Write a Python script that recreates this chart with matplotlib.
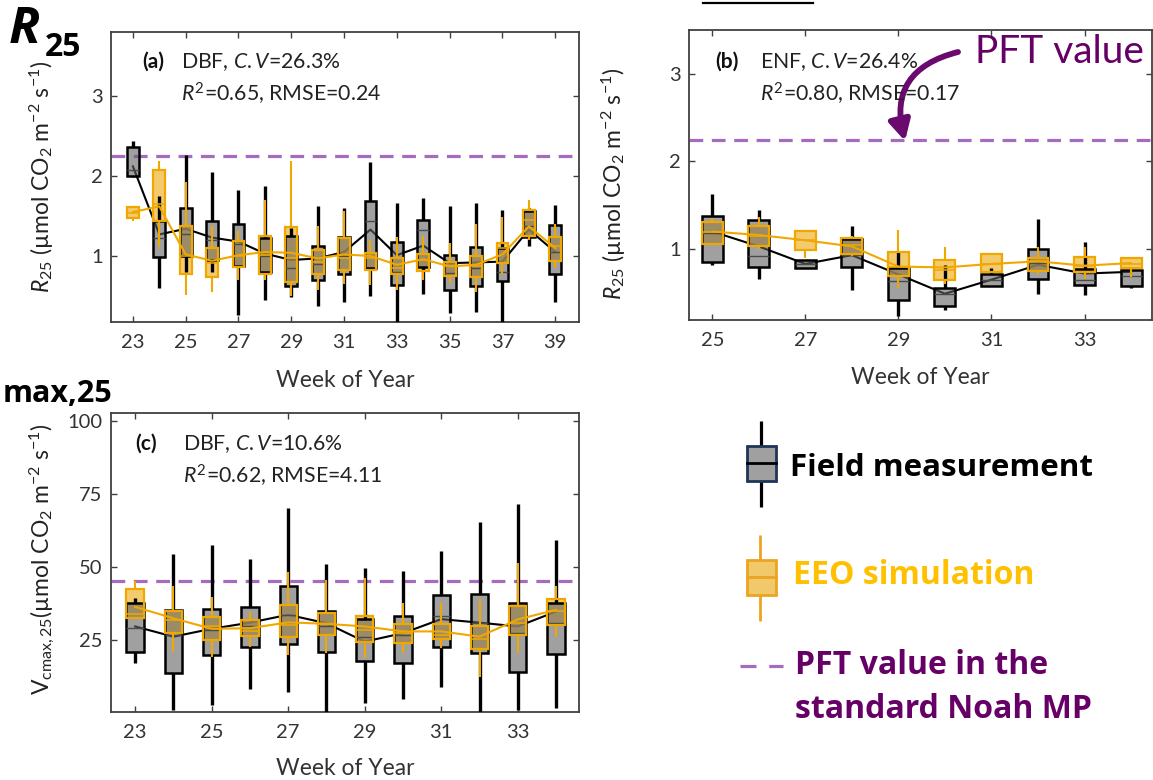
import matplotlib
matplotlib.use("Agg")
import matplotlib.pyplot as plt
from matplotlib.patches import Rectangle, FancyArrowPatch
from matplotlib.lines import Line2D

plt.rcParams["font.family"] = ["Lato", "DejaVu Sans"]
plt.rcParams["mathtext.fontset"] = "custom"
plt.rcParams["mathtext.rm"] = "Lato"
plt.rcParams["mathtext.it"] = "Lato:italic"
plt.rcParams["mathtext.bf"] = "Lato:bold"

# ---------------- data ----------------
weeks_a = list(range(23, 40))
fa_lo = [1.99, 0.60, 0.80, 0.80, 0.26, 0.45, 0.49, 0.38, 0.43, 0.50, 0.17, 0.52, 0.29, 0.30, 0.17, 1.12, 0.43]
fa_q1 = [2.00, 0.99, 1.00, 0.95, 0.87, 0.80, 0.63, 0.70, 0.77, 0.85, 0.64, 0.86, 0.58, 0.63, 0.69, 1.24, 0.78]
fa_med = [2.07, 1.22, 1.28, 1.20, 1.15, 1.00, 0.85, 0.90, 1.00, 1.44, 0.80, 1.33, 0.79, 0.85, 0.80, 1.37, 1.05]
fa_q3 = [2.36, 1.44, 1.60, 1.44, 1.40, 1.22, 1.25, 1.12, 1.24, 1.69, 1.18, 1.45, 1.01, 1.11, 1.10, 1.56, 1.39]
fa_hi = [2.44, 1.75, 2.26, 2.05, 1.83, 1.87, 1.35, 1.62, 1.60, 2.17, 1.66, 1.72, 1.63, 1.66, 1.58, 1.60, 1.64]
fa_mean = [2.12, 1.27, 1.34, 1.23, 1.18, 1.03, 0.95, 0.97, 1.05, 1.33, 1.01, 1.13, 0.91, 0.92, 0.93, 1.33, 1.05]

ea_lo = [1.44, 1.11, 0.51, 0.55, 0.70, 0.70, 0.50, 0.58, 0.65, 0.64, 0.58, 0.70, 0.66, 0.55, 0.78, 1.20, 0.85]
ea_q1 = [1.47, 1.44, 0.78, 0.74, 0.86, 0.78, 0.68, 0.78, 0.83, 0.83, 0.77, 0.81, 0.75, 0.74, 0.91, 1.25, 0.94]
ea_med = [1.54, 1.65, 1.00, 0.91, 1.00, 1.01, 0.97, 0.93, 0.98, 0.98, 0.85, 0.95, 0.87, 0.87, 1.10, 1.45, 1.12]
ea_q3 = [1.61, 2.07, 1.37, 1.10, 1.19, 1.25, 1.36, 1.07, 1.22, 1.04, 0.97, 1.03, 0.93, 1.00, 1.16, 1.58, 1.24]
ea_hi = [1.61, 2.19, 1.93, 1.37, 1.31, 1.70, 2.19, 1.37, 1.56, 1.20, 1.24, 1.25, 1.16, 1.40, 1.49, 1.70, 1.40]
ea_mean = [1.55, 1.62, 1.02, 0.94, 1.01, 1.05, 1.04, 0.97, 1.02, 1.00, 0.89, 0.96, 0.87, 0.89, 1.02, 1.37, 1.10]

weeks_b = list(range(25, 35))
fb_lo = [0.82, 0.66, 0.78, 0.53, 0.23, 0.30, 0.58, 0.49, 0.47, 0.56]
fb_q1 = [0.85, 0.79, 0.78, 0.80, 0.42, 0.35, 0.58, 0.66, 0.59, 0.58]
fb_med = [1.18, 0.92, 0.83, 0.93, 0.64, 0.49, 0.65, 0.84, 0.65, 0.69]
fb_q3 = [1.38, 1.33, 0.87, 1.12, 0.78, 0.56, 0.71, 1.00, 0.77, 0.76]
fb_hi = [1.63, 1.45, 0.87, 1.26, 0.97, 0.82, 0.78, 1.34, 1.08, 0.76]
fb_mean = [1.20, 1.03, 0.83, 0.93, 0.71, 0.49, 0.65, 0.82, 0.72, 0.74]

eb_lo = [1.05, 1.00, 0.90, 0.92, 0.55, 0.60, 0.74, 0.72, 0.66, 0.68]
eb_q1 = [1.06, 1.03, 0.99, 0.94, 0.69, 0.65, 0.74, 0.75, 0.74, 0.78]
eb_med = [1.20, 1.15, 1.10, 1.05, 0.80, 0.76, 0.83, 0.86, 0.81, 0.83]
eb_q3 = [1.31, 1.26, 1.21, 1.13, 0.97, 0.87, 0.94, 0.90, 0.91, 0.90]
eb_hi = [1.35, 1.37, 1.22, 1.15, 1.22, 1.02, 0.94, 1.02, 1.02, 0.90]
eb_mean = [1.20, 1.16, 1.10, 1.03, 0.80, 0.79, 0.83, 0.86, 0.81, 0.84]

weeks_c = list(range(23, 35))
fc_lo = [17.0, 1.0, 2.7, 8.1, 7.1, 0.0, 3.5, 4.8, 8.8, 0.0, 1.0, 1.6]
fc_q1 = [20.7, 13.8, 19.9, 22.4, 23.5, 20.7, 17.6, 17.0, 22.5, 20.4, 13.9, 20.2]
fc_med = [29.0, 26.7, 28.4, 29.6, 33.6, 29.6, 26.0, 26.7, 33.2, 30.9, 27.3, 30.7]
fc_q3 = [37.6, 35.3, 35.5, 36.1, 43.3, 34.9, 32.1, 33.3, 40.4, 40.8, 37.6, 37.6]
fc_hi = [39.3, 54.5, 57.5, 52.7, 70.1, 51.0, 49.5, 48.7, 55.5, 65.5, 71.6, 59.2]
fc_mean = [29.6, 26.1, 28.8, 30.9, 33.6, 30.7, 24.4, 27.3, 32.1, 30.9, 29.6, 34.7]

ec_lo = [32.5, 20.7, 19.3, 22.7, 19.9, 20.4, 18.7, 20.4, 22.1, 12.4, 20.4, 26.1]
ec_q1 = [32.6, 27.3, 25.0, 26.4, 25.9, 26.7, 24.2, 23.9, 25.2, 21.8, 26.5, 30.1]
ec_med = [34.0, 31.8, 29.6, 27.9, 30.1, 30.5, 28.4, 27.3, 26.7, 25.2, 30.7, 35.0]
ec_q3 = [42.5, 35.0, 33.0, 31.8, 37.0, 34.1, 33.2, 30.4, 30.4, 29.6, 36.6, 38.9]
ec_hi = [45.0, 43.3, 39.8, 34.7, 48.4, 45.5, 46.1, 37.6, 37.6, 39.0, 51.3, 43.5]
ec_mean = [36.3, 32.4, 28.8, 29.0, 31.0, 30.5, 29.6, 27.9, 27.9, 26.1, 32.0, 35.3]

pft_r25 = 2.25
pft_vcmax = 45.0

# ---------------- styles ----------------
GRAY_FACE = (0.38, 0.38, 0.38, 0.6)
ORANGE_FACE = (0.937, 0.725, 0.24, 0.75)
ORANGE = "#f0a800"
PURPLE_DASH = "#a56bbf"
PURPLE_TEXT = "#660066"
AXC = "#404040"
BOLD_FAMILY = ["Open Sans", "DejaVu Sans"]


def stats(lo, q1, med, q3, hi, mean):
    return [dict(whislo=a, q1=b, med=c, q3=d, whishi=e, mean=f, fliers=[])
            for a, b, c, d, e, f in zip(lo, q1, med, q3, hi, mean)]


def draw_panel(ax, weeks, field, eeo, pft):
    fs = stats(*field)
    es = stats(*eeo)
    w = 0.45
    ax.axhline(pft, color=PURPLE_DASH, lw=2.3, dashes=(4.3, 2.7), zorder=0.5)
    # field mean line under the fills
    ax.plot(weeks, field[5], color="black", lw=1.5, zorder=1)
    # EEO box fill
    ax.bxp(es, positions=weeks, widths=w, patch_artist=True, showcaps=False,
           showfliers=False, manage_ticks=False, zorder=2,
           boxprops=dict(facecolor=ORANGE_FACE, edgecolor="none", linewidth=0),
           whiskerprops=dict(linestyle="none"),
           medianprops=dict(linestyle="none"))
    # field boxes
    ax.bxp(fs, positions=weeks, widths=w, patch_artist=True, showcaps=False,
           showfliers=False, manage_ticks=False, zorder=3,
           boxprops=dict(facecolor=GRAY_FACE, edgecolor="black", linewidth=1.8),
           whiskerprops=dict(color="black", linewidth=2.4, solid_capstyle="butt"),
           medianprops=dict(color="#4a4a4a", linewidth=1.0))
    # EEO outlines and whiskers
    ax.bxp(es, positions=weeks, widths=w, patch_artist=True, showcaps=False,
           showfliers=False, manage_ticks=False, zorder=4,
           boxprops=dict(facecolor="none", edgecolor=ORANGE, linewidth=1.6),
           whiskerprops=dict(color=ORANGE, linewidth=1.5, solid_capstyle="butt"),
           medianprops=dict(color=ORANGE, linewidth=1.1))
    ax.plot(weeks, eeo[5], color=ORANGE, lw=1.5, zorder=5)

    for s in ax.spines.values():
        s.set_color(AXC)
        s.set_linewidth(1.3)
    ax.tick_params(direction="in", length=4, width=1, color=AXC,
                   labelcolor="#333333", labelsize=14.5, top=True, right=True)
    ax.tick_params(axis="x", pad=9)
    ax.tick_params(axis="y", pad=6)


W, H = 1153, 780
fig = plt.figure(figsize=(W / 100, H / 100), dpi=100)


def px_axes(l, t, r, b):
    return fig.add_axes([l / W, 1 - b / H, (r - l) / W, (b - t) / H])


ax_a = px_axes(111, 32, 579, 322)
ax_b = px_axes(689, 30, 1152, 320)
ax_c = px_axes(111, 413, 579, 712)

draw_panel(ax_a, weeks_a, (fa_lo, fa_q1, fa_med, fa_q3, fa_hi, fa_mean),
           (ea_lo, ea_q1, ea_med, ea_q3, ea_hi, ea_mean), pft_r25)
draw_panel(ax_b, weeks_b, (fb_lo, fb_q1, fb_med, fb_q3, fb_hi, fb_mean),
           (eb_lo, eb_q1, eb_med, eb_q3, eb_hi, eb_mean), pft_r25)
draw_panel(ax_c, weeks_c, (fc_lo, fc_q1, fc_med, fc_q3, fc_hi, fc_mean),
           (ec_lo, ec_q1, ec_med, ec_q3, ec_hi, ec_mean), pft_vcmax)

ax_a.set_xlim(22.17, 39.9)
ax_a.set_ylim(0.175, 3.8)
ax_a.set_xticks(range(23, 40, 2))
ax_a.set_yticks([1, 2, 3])

ax_b.set_xlim(24.5, 34.45)
ax_b.set_ylim(0.19, 3.5)
ax_b.set_xticks(range(25, 35, 2))
ax_b.set_yticks([1, 2, 3])

ax_c.set_xlim(22.37, 34.6)
ax_c.set_ylim(0.3, 102.7)
ax_c.set_xticks(range(23, 35, 2))
ax_c.set_yticks([25, 50, 75, 100])

r25_label = r"$R_{25}$ (µmol CO$_2$ m$^{-2}$ s$^{-1}$)"
vc_label = r"V$_{\mathrm{cmax,25}}$(µmol CO$_2$ m$^{-2}$ s$^{-1}$)"
for ax, lab, lx, ly in [(ax_a, r25_label, -0.118, 0.50),
                        (ax_b, r25_label, -0.132, 0.47),
                        (ax_c, vc_label, -0.115, 0.51)]:
    ax.set_ylabel(lab, fontsize=16.5, color="#222222")
    ax.yaxis.set_label_coords(lx, ly)
    ax.set_xlabel("Week of Year", fontsize=16.5, color="#333333")
for ax, ly in [(ax_a, -0.166), (ax_b, -0.162), (ax_c, -0.155)]:
    ax.xaxis.set_label_coords(0.5, ly)

# panel annotations
notes = [
    (ax_a, "(a)", r"DBF, $C.V$=26.3%", r"$R^2$=0.65, RMSE=0.24", 142, 181, 68, 102),
    (ax_b, "(b)", r"ENF, $C.V$=26.4%", r"$R^2$=0.80, RMSE=0.17", 715, 760, 68, 102),
    (ax_c, "(c)", r"DBF, $C.V$=10.6%", r"$R^2$=0.62, RMSE=4.11", 135, 183, 450, 484),
]

ov = fig.add_axes([0, 0, 1, 1], zorder=10)
ov.set_xlim(0, W)
ov.set_ylim(H, 0)
ov.axis("off")
ov.patch.set_alpha(0)

for ax, tag, l1, l2, xt, xs, y1, y2 in notes:
    ov.text(xt, y1, tag, fontsize=15, fontweight="bold", color="#111111", va="baseline")
    ov.text(xs, y1, l1, fontsize=15.3, color="#222222", va="baseline")
    ov.text(xs, y2, l2, fontsize=15.3, color="#222222", va="baseline")

# big headings at the left edge
ov.text(9, 43, "R", fontsize=37, fontweight="bold", fontstyle="italic",
        family=BOLD_FAMILY, va="baseline")
ov.text(45, 56, "25", fontsize=23, fontweight="bold", family=BOLD_FAMILY, va="baseline")
ov.text(3, 402, "max,25", fontsize=22, fontweight="bold", family=BOLD_FAMILY,
        va="baseline", ha="left")

# rule at the top
ov.add_line(Line2D([703, 813], [3, 3], color="black", lw=1.6))

# PFT callout
ov.text(975, 63, "PFT value", fontsize=28, color=PURPLE_TEXT, va="baseline")
arrow = FancyArrowPatch((958, 52), (905, 141), connectionstyle="arc3,rad=0.5",
                        arrowstyle="-|>,head_length=0.6,head_width=0.32",
                        mutation_scale=20, lw=4.2, color="#6a0a6e",
                        shrinkA=0, shrinkB=0)
ov.add_patch(arrow)

# legend glyphs
LEG_FS = 23
ov.add_line(Line2D([761, 761], [421, 507], color="black", lw=2.3,
                   solid_capstyle="butt", zorder=1))
ov.add_patch(Rectangle((747, 446), 29, 35, facecolor="#a0a0a0", edgecolor="#1f3556",
                       lw=2.0, zorder=2))
ov.add_line(Line2D([747, 776], [463, 463], color="black", lw=2.0, zorder=3))
ov.text(790, 468, "Field measurement", fontsize=22.5, fontweight="bold", color="black",
        family=BOLD_FAMILY, va="center")

ov.add_line(Line2D([760, 760], [535, 621], color="#eba520", lw=2.0,
                   solid_capstyle="butt", zorder=1))
ov.add_patch(Rectangle((747, 560), 29, 35, facecolor="#f2c96a", edgecolor="#eba520",
                       lw=2.0, zorder=2))
ov.add_line(Line2D([747, 776], [577, 577], color="#eba520", lw=2.0, zorder=3))
ov.text(793, 575, "EEO simulation", fontsize=LEG_FS, fontweight="bold", color="#ffc000",
        family=BOLD_FAMILY, va="center")

ov.add_line(Line2D([740, 783], [666, 666], color=PURPLE_DASH, lw=2.3, dashes=(5, 4)))
ov.text(795, 665, "PFT value in the", fontsize=LEG_FS, fontweight="bold", color=PURPLE_TEXT,
        family=BOLD_FAMILY, va="center")
ov.text(795, 710, "standard Noah MP", fontsize=LEG_FS, fontweight="bold", color=PURPLE_TEXT,
        family=BOLD_FAMILY, va="center")

fig.savefig("out.png", dpi=100)
